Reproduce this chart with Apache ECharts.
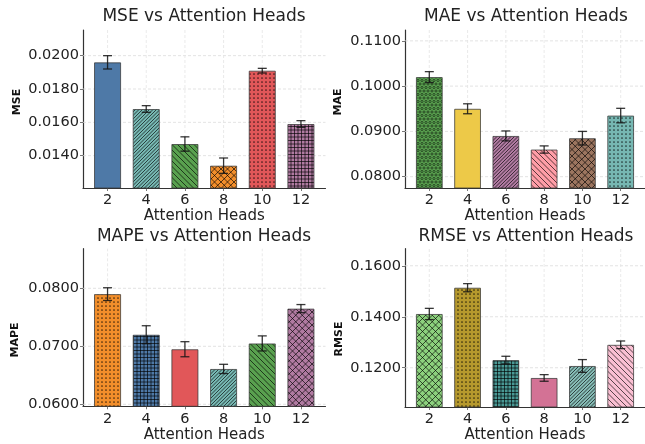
<!DOCTYPE html>
<html>
<head>
<meta charset="utf-8">
<script src="https://cdn.jsdelivr.net/npm/echarts@6/dist/echarts.min.js"></script>
<style>
  html, body { margin: 0; padding: 0; background: #fff; }
  #chart { width: 645px; height: 444px; }
</style>
</head>
<body>
<div id="chart"></div>
<script>
// ---- data ----
const HEADS = ['2', '4', '6', '8', '10', '12'];

const MSE      = [0.0196, 0.0168, 0.0147, 0.0134, 0.0191, 0.0159];
const MSE_ERR  = [0.0004, 0.0002, 0.00043, 0.00046, 0.00014, 0.0002];
const MAE      = [0.1020, 0.0950, 0.0890, 0.0860, 0.0885, 0.0935];
const MAE_ERR  = [0.0012, 0.0011, 0.0011, 0.0008, 0.0015, 0.0016];
const MAPE     = [0.0790, 0.0720, 0.0695, 0.0661, 0.0705, 0.0765];
const MAPE_ERR = [0.0011, 0.00155, 0.0013, 0.0008, 0.0013, 0.0007];
const RMSE     = [0.1411, 0.1514, 0.1230, 0.1160, 0.1207, 0.1290];
const RMSE_ERR = [0.0022, 0.0016, 0.0015, 0.0013, 0.0025, 0.0015];

const MSE_TICKS  = [0.014, 0.016, 0.018, 0.020];
const MAE_TICKS  = [0.080, 0.090, 0.100, 0.110];
const MAPE_TICKS = [0.060, 0.070, 0.080];
const RMSE_TICKS = [0.120, 0.140, 0.160];

const MSE_RANGE  = [0.01206, 0.02154];
const MAE_RANGE  = [0.0775, 0.1124];
const MAPE_RANGE = [0.05966, 0.08683];
const RMSE_RANGE = [0.1046, 0.1667];

const MSE_COLORS  = ['#4e79a7', '#76b7b2', '#59a14f', '#f28e2b', '#e15759', '#b07aa1'];
const MAE_COLORS  = ['#59a14f', '#edc948', '#b07aa1', '#ff9da7', '#9c755f', '#76b7b2'];
const MAPE_COLORS = ['#f28e2b', '#4e79a7', '#e15759', '#76b7b2', '#59a14f', '#b07aa1'];
const RMSE_COLORS = ['#8cd17d', '#b6992d', '#499894', '#d37295', '#86bcb6', '#fabfd2'];

const MSE_HATCH  = ['', '//', '\\', 'x', '.', '+'];
const MAE_HATCH  = ['o', '', '//', '\\', 'x', '.'];
const MAPE_HATCH = ['.', '+', '', '//', '\\', 'x'];
const RMSE_HATCH = ['x', '.', '+', '', '//', '\\'];

// ---- styling ----
const FONT = 'DejaVu Sans';
const INK = '#222';
const HATCH_INK = 'rgba(0,0,0,0.72)';
const X_MIN = -0.635, X_MAX = 5.635;

// hatched fill tiles, repeated across each bar
function makeFill(color, kind) {
  if (!kind) return color;
  let w, h;
  if (kind === 'o') { w = 4; h = 7; }
  else if (kind === '.') { w = h = 4; }
  else if (kind === '+' || kind === '//') { w = h = 7; }
  else if (kind === '\\') { w = h = 11; }
  else { w = h = 13; }
  const cv = document.createElement('canvas');
  cv.width = w; cv.height = h;
  const g = cv.getContext('2d');
  g.fillStyle = color;
  g.fillRect(0, 0, w, h);
  g.strokeStyle = HATCH_INK;
  g.fillStyle = HATCH_INK;
  g.lineWidth = 0.9;
  const diag = (dir, n) => {
    const p = w / n;
    for (let k = -n; k <= 2 * n; k++) {
      const c0 = k * p;
      g.beginPath();
      if (dir > 0) { g.moveTo(c0 + w, -w); g.lineTo(c0 - 2 * w, 2 * w); }
      else { g.moveTo(c0 - w, -w); g.lineTo(c0 + 2 * w, 2 * w); }
      g.stroke();
    }
  };
  if (kind === '//') diag(1, 2);
  else if (kind === '\\') diag(-1, 2);
  else if (kind === 'x') { diag(1, 2); diag(-1, 2); }
  else if (kind === '+') {
    for (let k = 0; k < 2; k++) {
      const q = k * 3.5 + 0.5;
      g.beginPath(); g.moveTo(0, q); g.lineTo(w, q); g.stroke();
      g.beginPath(); g.moveTo(q, 0); g.lineTo(q, h); g.stroke();
    }
  } else if (kind === '.') {
    g.beginPath(); g.arc(2, 2, 0.85, 0, Math.PI * 2); g.fill();
  } else if (kind === 'o') {
    g.lineWidth = 0.7;
    [[0, 0], [4, 0], [0, 7], [4, 7], [2, 3.5]].forEach(([cx, cy]) => {
      g.beginPath(); g.arc(cx, cy, 1.1, 0, Math.PI * 2); g.stroke();
    });
  }
  return { image: cv, repeat: 'repeat' };
}

const panels = [
  { name: 'MSE',  vals: MSE,  errs: MSE_ERR,  ticks: MSE_TICKS,  range: MSE_RANGE,  colors: MSE_COLORS,  hatch: MSE_HATCH,
    grid: { left: 83, top: 30, width: 242.5, height: 158 }, title: [204, 17], ylab: [17, 102] },
  { name: 'MAE',  vals: MAE,  errs: MAE_ERR,  ticks: MAE_TICKS,  range: MAE_RANGE,  colors: MAE_COLORS,  hatch: MAE_HATCH,
    grid: { left: 405, top: 30, width: 242.5, height: 158 }, title: [526, 17], ylab: [338, 102] },
  { name: 'MAPE', vals: MAPE, errs: MAPE_ERR, ticks: MAPE_TICKS, range: MAPE_RANGE, colors: MAPE_COLORS, hatch: MAPE_HATCH,
    grid: { left: 83, top: 248.7, width: 242.5, height: 157.6 }, title: [204, 237], ylab: [15, 340] },
  { name: 'RMSE', vals: RMSE, errs: RMSE_ERR, ticks: RMSE_TICKS, range: RMSE_RANGE, colors: RMSE_COLORS, hatch: RMSE_HATCH,
    grid: { left: 405, top: 248.7, width: 242.5, height: 158.3 }, title: [526, 237], ylab: [339, 339] }
];

const idx = HEADS.map((_, i) => i);
const grids = [], xAxes = [], yAxes = [], series = [], graphics = [];

panels.forEach((p, k) => {
  grids.push(Object.assign({ containLabel: false }, p.grid));

  xAxes.push({
    type: 'value', gridIndex: k, min: X_MIN, max: X_MAX,
    axisLine: { show: true, onZero: false, lineStyle: { color: '#333', width: 1.2 } },
    axisTick: { show: true, customValues: idx, length: 3, lineStyle: { color: '#555', width: 0.8 } },
    axisLabel: { customValues: idx, formatter: v => HEADS[Math.round(v)], fontFamily: FONT, fontSize: 14.5, color: INK, margin: 5 },
    splitLine: { show: false },
    name: 'Attention Heads', nameLocation: 'middle', nameGap: 19,
    nameTextStyle: { fontFamily: FONT, fontSize: 15, color: INK }
  });

  yAxes.push({
    type: 'value', gridIndex: k, min: p.range[0], max: p.range[1],
    axisLine: { show: true, onZero: false, lineStyle: { color: '#333', width: 1.2 } },
    axisTick: { show: true, customValues: p.ticks, length: 3, lineStyle: { color: '#555', width: 0.8 } },
    axisLabel: { customValues: p.ticks, formatter: v => v.toFixed(4), fontFamily: FONT, fontSize: 14.5, color: INK, margin: 4 },
    splitLine: { show: false }
  });

  // dashed background grid
  series.push({
    type: 'custom', xAxisIndex: k, yAxisIndex: k, z: 1, silent: true,
    data: p.ticks.map(t => [0, t]),
    renderItem: (params, api) => {
      const a = api.coord([X_MIN, api.value(1)]), b = api.coord([X_MAX, api.value(1)]);
      return { type: 'line', shape: { x1: a[0], y1: a[1], x2: b[0], y2: b[1] },
        style: { stroke: '#dcdcdc', lineWidth: 0.8, lineDash: [3, 2] } };
    }
  });
  series.push({
    type: 'custom', xAxisIndex: k, yAxisIndex: k, z: 1, silent: true,
    data: idx.map(i => [i, p.range[0]]),
    renderItem: (params, api) => {
      const a = api.coord([api.value(0), p.range[0]]), b = api.coord([api.value(0), p.range[1]]);
      return { type: 'line', shape: { x1: a[0], y1: a[1], x2: b[0], y2: b[1] },
        style: { stroke: '#e4e4e4', lineWidth: 0.8, lineDash: [3, 2] } };
    }
  });

  // bars
  series.push({
    type: 'bar', xAxisIndex: k, yAxisIndex: k, z: 2, silent: true,
    barWidth: '70%',
    itemStyle: { borderColor: 'rgba(55,55,55,0.75)', borderWidth: 1 },
    data: p.vals.map((v, i) => ({ value: [i, v], itemStyle: { color: makeFill(p.colors[i], p.hatch[i]) } }))
  });

  // error bars
  series.push({
    type: 'custom', xAxisIndex: k, yAxisIndex: k, z: 3, silent: true,
    encode: { x: 0, y: 1 },
    data: p.vals.map((v, i) => [i, v, p.errs[i]]),
    renderItem: (params, api) => {
      const x = api.value(0), v = api.value(1), e = api.value(2);
      const t = api.coord([x, v + e]), b = api.coord([x, v - e]);
      const st = { stroke: 'rgba(20,20,20,0.85)', lineWidth: 1.3 };
      return { type: 'group', children: [
        { type: 'line', shape: { x1: t[0], y1: t[1], x2: b[0], y2: b[1] }, style: st },
        { type: 'line', shape: { x1: t[0] - 4.5, y1: t[1], x2: t[0] + 4.5, y2: t[1] }, style: st },
        { type: 'line', shape: { x1: b[0] - 4.5, y1: b[1], x2: b[0] + 4.5, y2: b[1] }, style: st }
      ] };
    }
  });

  graphics.push({
    type: 'text', x: p.title[0], y: p.title[1],
    style: { text: p.name + ' vs Attention Heads', font: '17px "' + FONT + '"', fill: INK, align: 'center', verticalAlign: 'middle' }
  });
  graphics.push({
    type: 'text', x: p.ylab[0], y: p.ylab[1], rotation: Math.PI / 2,
    style: { text: p.name, font: 'bold 11px "' + FONT + '"', fill: '#111', align: 'center', verticalAlign: 'middle' }
  });
});

const chart = echarts.init(document.getElementById('chart'), null, { renderer: 'canvas' });
chart.setOption({
  animation: false,
  backgroundColor: '#fff',
  grid: grids, xAxis: xAxes, yAxis: yAxes, series: series,
  graphic: graphics
});
</script>
</body>
</html>
